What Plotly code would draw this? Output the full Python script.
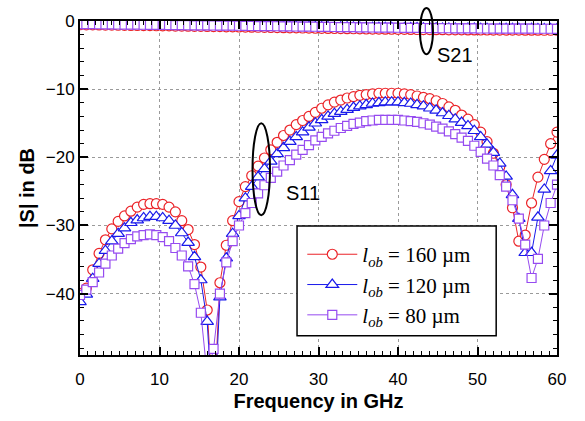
import plotly.graph_objects as go

# Frequency grid (GHz), 0.8 GHz step
freq = [round(0.8 * i, 1) for i in range(76)]

# |S11| in dB for the three lengths
s11_160 = [-40.0, -39.2, -36.5, -34.1, -32.1, -30.5, -29.4, -28.6, -27.9, -27.3,
           -26.9, -26.8, -26.8, -26.9, -27.3, -28.0, -29.3, -30.6, -32.8, -36.1,
           -42.4, -58.0, -38.4, -32.9, -29.3, -26.5, -24.3, -22.7, -21.3, -20.1,
           -18.9, -17.8, -16.8, -16.0, -15.2, -14.6, -14.0, -13.4, -12.8, -12.3,
           -11.9, -11.6, -11.3, -11.1, -10.9, -10.8, -10.7, -10.6, -10.6, -10.6,
           -10.6, -10.7, -10.8, -11.0, -11.2, -11.4, -11.7, -12.1, -12.6, -13.1,
           -13.8, -14.4, -15.2, -16.3, -17.7, -19.4, -21.4, -24.0, -27.4, -32.3,
           -31.4, -26.7, -22.9, -20.3, -18.0, -16.3]
s11_120 = [-41.2, -40.1, -37.8, -35.6, -33.7, -32.3, -31.2, -30.4, -29.6, -29.2,
           -28.9, -28.7, -28.7, -28.9, -29.3, -30.0, -31.1, -32.5, -34.6, -38.0,
           -44.1, -60.0, -40.5, -34.8, -31.2, -28.6, -26.0, -24.3, -22.9, -21.7,
           -20.6, -19.5, -18.6, -17.7, -17.0, -16.3, -15.6, -15.0, -14.5, -14.0,
           -13.6, -13.3, -13.0, -12.7, -12.5, -12.3, -12.1, -12.0, -11.9, -11.9,
           -11.9, -12.0, -12.1, -12.3, -12.5, -12.8, -13.1, -13.5, -13.9, -14.4,
           -14.9, -15.4, -16.1, -17.0, -18.1, -19.3, -20.9, -22.8, -25.5, -29.0,
           -34.0, -34.0, -28.8, -24.7, -22.0, -19.7]
s11_80 = [-40.2, -39.4, -38.3, -36.9, -35.6, -34.4, -33.4, -32.6, -32.0, -31.6,
          -31.4, -31.3, -31.4, -31.7, -32.3, -33.3, -34.4, -36.0, -38.6, -42.8,
          -52.0, -48.1, -40.0, -35.4, -32.3, -30.0, -28.2, -26.7, -25.3, -24.1,
          -23.0, -22.1, -21.2, -20.4, -19.6, -18.9, -18.2, -17.5, -17.0, -16.5,
          -16.1, -15.7, -15.4, -15.1, -14.9, -14.7, -14.6, -14.5, -14.5, -14.5,
          -14.5, -14.6, -14.7, -14.8, -15.0, -15.2, -15.5, -15.8, -16.2, -16.6,
          -17.1, -17.6, -18.3, -19.2, -20.2, -21.2, -22.6, -24.3, -26.3, -29.0,
          -32.8, -37.7, -34.9, -30.0, -26.7, -24.0]

# |S21| in dB (transmission, close to 0 dB)
s21_160 = [-0.55, -0.56, -0.57, -0.58, -0.60, -0.61, -0.62, -0.63, -0.65, -0.66,
           -0.67, -0.68, -0.70, -0.71, -0.72, -0.74, -0.75, -0.76, -0.78, -0.79,
           -0.80, -0.82, -0.83, -0.85, -0.86, -0.88, -0.89, -0.91, -0.92, -0.94,
           -0.95, -0.97, -0.98, -1.00, -1.01, -1.03, -1.04, -1.06, -1.07, -1.09,
           -1.10, -1.12, -1.13, -1.14, -1.16, -1.17, -1.18, -1.19, -1.20, -1.21,
           -1.22, -1.23, -1.24, -1.25, -1.26, -1.27, -1.28, -1.28, -1.29, -1.30,
           -1.30, -1.31, -1.31, -1.32, -1.32, -1.33, -1.33, -1.34, -1.34, -1.34,
           -1.35, -1.35, -1.35, -1.36, -1.36, -1.36]
s21_120 = [-0.47, -0.48, -0.49, -0.50, -0.51, -0.52, -0.53, -0.54, -0.55, -0.56,
           -0.57, -0.58, -0.59, -0.60, -0.61, -0.62, -0.63, -0.64, -0.65, -0.66,
           -0.67, -0.68, -0.69, -0.70, -0.71, -0.72, -0.73, -0.75, -0.76, -0.77,
           -0.78, -0.79, -0.80, -0.82, -0.83, -0.84, -0.85, -0.86, -0.88, -0.89,
           -0.90, -0.91, -0.92, -0.93, -0.95, -0.96, -0.97, -0.98, -0.99, -1.00,
           -1.01, -1.02, -1.03, -1.04, -1.05, -1.06, -1.07, -1.08, -1.08, -1.09,
           -1.10, -1.10, -1.11, -1.12, -1.12, -1.13, -1.13, -1.14, -1.14, -1.15,
           -1.15, -1.15, -1.16, -1.16, -1.16, -1.17]
s21_80 = [-0.45, -0.46, -0.47, -0.48, -0.49, -0.50, -0.51, -0.52, -0.53, -0.54,
          -0.55, -0.56, -0.57, -0.58, -0.59, -0.60, -0.61, -0.62, -0.63, -0.64,
          -0.65, -0.66, -0.67, -0.68, -0.69, -0.70, -0.71, -0.73, -0.74, -0.75,
          -0.76, -0.77, -0.78, -0.80, -0.81, -0.82, -0.83, -0.84, -0.86, -0.87,
          -0.88, -0.89, -0.90, -0.91, -0.93, -0.94, -0.95, -0.96, -0.97, -0.98,
          -0.99, -1.00, -1.01, -1.02, -1.03, -1.04, -1.05, -1.06, -1.06, -1.07,
          -1.08, -1.08, -1.09, -1.10, -1.10, -1.11, -1.11, -1.12, -1.12, -1.13,
          -1.13, -1.13, -1.14, -1.14, -1.14, -1.15]

series_names = ["<i>l</i><sub><i>ob</i></sub> = 160 µm",
                "<i>l</i><sub><i>ob</i></sub> = 120 µm",
                "<i>l</i><sub><i>ob</i></sub> = 80 µm"]
colors = ["rgb(235,35,40)", "rgb(25,25,235)", "rgb(150,75,240)"]
symbols = ["circle", "triangle-up", "square"]
sizes = [10, 11, 9]

X_RANGE = [0, 60]
Y_RANGE = [-49, 0]

fig = go.Figure()

for s11, s21, name, col, sym, sz in zip(
        [s11_160, s11_120, s11_80], [s21_160, s21_120, s21_80],
        series_names, colors, symbols, sizes):
    style = dict(
        mode="lines+markers",
        line=dict(color=col, width=1),
        marker=dict(symbol=sym, size=sz, color="white",
                    line=dict(color=col, width=1.2)),
    )
    fig.add_trace(go.Scatter(x=freq, y=s11, name=name, **style))
    fig.add_trace(go.Scatter(x=freq, y=s21, name=name, showlegend=False, **style))


def px(x):
    return (x - X_RANGE[0]) / (X_RANGE[1] - X_RANGE[0])


def py(y):
    return (y - Y_RANGE[0]) / (Y_RANGE[1] - Y_RANGE[0])


# Ellipses grouping the S21 and S11 curve families
fig.add_shape(type="circle", xref="paper", yref="paper",
              x0=px(42.76), x1=px(44.4), y0=py(-4.86), y1=py(1.9),
              line=dict(color="black", width=2))
fig.add_shape(type="circle", xref="paper", yref="paper",
              x0=px(21.7), x1=px(23.9), y0=py(-28.5), y1=py(-15.0),
              line=dict(color="black", width=2))

# Frame around the legend
fig.add_shape(type="rect", xref="paper", yref="paper",
              x0=0.455, x1=0.8725, y0=0.058, y1=0.386,
              fillcolor="white", line=dict(color="black", width=1.5),
              layer="above")

label_font = dict(family="Liberation Sans, Arial", size=20, color="black")
fig.add_annotation(x=47.2, y=-5.0, text="S21", showarrow=False, font=label_font)
fig.add_annotation(x=28.1, y=-25.3, text="S11", showarrow=False, font=label_font)

axis_common = dict(
    showline=True, linewidth=2, linecolor="black", mirror="allticks",
    ticks="inside", ticklen=8, tickwidth=1.5, tickcolor="black",
    showgrid=True, gridcolor="#9a9a9a", griddash="dot", gridwidth=1,
    zeroline=False,
    tickfont=dict(family="Liberation Sans, Arial", size=17, color="black"),
)

fig.update_xaxes(range=X_RANGE, dtick=10, tick0=0, ticklabelstandoff=8,
                 minor=dict(dtick=1, ticks="inside", ticklen=4, tickwidth=1,
                            tickcolor="black", showgrid=False),
                 title=dict(text="<b>Frequency in GHz</b>", standoff=6,
                            font=dict(family="Liberation Sans, Arial", size=20,
                                      color="black")),
                 **axis_common)
fig.update_yaxes(range=Y_RANGE, dtick=10, tick0=0,
                 minor=dict(dtick=2, tick0=0, ticks="inside", ticklen=4,
                            tickwidth=1, tickcolor="black", showgrid=False),
                 title=dict(text="<b>|S| in dB</b>", standoff=6,
                            font=dict(family="Liberation Sans, Arial", size=20,
                                      color="black")),
                 **axis_common)

fig.update_layout(
    width=585, height=421,
    margin=dict(l=80, r=28, t=15, b=58),
    plot_bgcolor="white", paper_bgcolor="white",
    legend=dict(x=0.466, y=0.362, xanchor="left", yanchor="top",
                bgcolor="rgba(0,0,0,0)", borderwidth=0,
                itemwidth=50,
                font=dict(family="Liberation Serif, Times New Roman", size=21,
                          color="black")),
)

fig.write_html("out.html")
